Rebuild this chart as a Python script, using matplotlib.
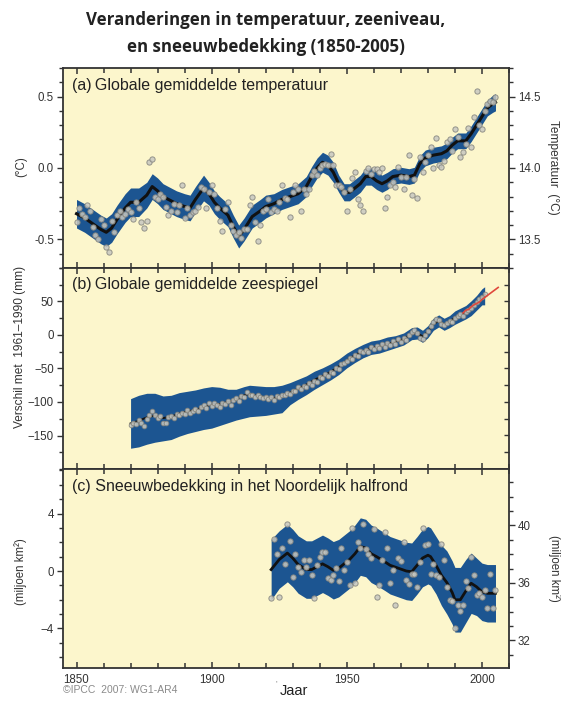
import numpy as np
import matplotlib
matplotlib.use("Agg")
import matplotlib.pyplot as plt
from matplotlib.ticker import MultipleLocator, FixedLocator, FormatStrFormatter

plt.rcParams['font.family'] = ['Liberation Sans', 'DejaVu Sans']
plt.rcParams['axes.unicode_minus'] = True

# ---------------- data ----------------
# (a) global mean temperature anomaly (degC), annual 1850-2005
temp_start = 1850
temp_vals = [-0.38, -0.28, -0.32, -0.34, -0.26, -0.30, -0.41, -0.47, -0.50, -0.36,
             -0.40, -0.55, -0.59, -0.37, -0.45, -0.33, -0.30, -0.34, -0.32, -0.29,
             -0.31, -0.36, -0.24, -0.28, -0.38, -0.42, -0.37, 0.04, 0.06, -0.20,
             -0.22, -0.18, -0.20, -0.27, -0.33, -0.30, -0.25, -0.31, -0.26, -0.12,
             -0.35, -0.28, -0.33, -0.31, -0.30, -0.27, -0.13, -0.15, -0.28, -0.17,
             -0.12, -0.18, -0.28, -0.37, -0.44, -0.29, -0.24, -0.40, -0.44, -0.47,
             -0.45, -0.49, -0.43, -0.43, -0.26, -0.20, -0.38, -0.51, -0.40, -0.30,
             -0.29, -0.22, -0.31, -0.29, -0.30, -0.24, -0.12, -0.21, -0.22, -0.34,
             -0.17, -0.12, -0.15, -0.30, -0.15, -0.18, -0.15, -0.05, -0.02, -0.05,
             0.00, 0.02, 0.03, 0.02, 0.10, 0.02, -0.12, -0.12, -0.13, -0.17,
             -0.30, -0.15, -0.07, -0.03, -0.22, -0.26, -0.30, -0.02, 0.00, -0.04,
             -0.01, -0.01, -0.03, 0.00, -0.28, -0.20, -0.12, -0.10, -0.13, 0.01,
             -0.06, -0.15, -0.06, 0.09, -0.19, -0.08, -0.21, 0.08, -0.03, 0.04,
             0.09, 0.15, 0.00, 0.21, 0.02, 0.01, 0.05, 0.18, 0.20, 0.12,
             0.27, 0.22, 0.08, 0.11, 0.17, 0.28, 0.15, 0.36, 0.54, 0.30,
             0.27, 0.40, 0.45, 0.47, 0.46, 0.50]
temp_smooth_years = [1850, 1853, 1856, 1859, 1861, 1863, 1865, 1868, 1870, 1873,
                     1876, 1878, 1880, 1882, 1885, 1887, 1890, 1892, 1894, 1897,
                     1899, 1901, 1903, 1906, 1908, 1910, 1912, 1915, 1918, 1920,
                     1923, 1926, 1929, 1932, 1935, 1937, 1939, 1941, 1943, 1945,
                     1947, 1949, 1951, 1953, 1955, 1957, 1959, 1961, 1963, 1965,
                     1967, 1970, 1973, 1975, 1977, 1979, 1982, 1985, 1987, 1989,
                     1991, 1994, 1996, 1998, 2000, 2002, 2004, 2005]
temp_smooth = [-0.32, -0.35, -0.39, -0.43, -0.45, -0.42, -0.36, -0.28, -0.24, -0.24,
               -0.19, -0.13, -0.16, -0.20, -0.23, -0.25, -0.27, -0.28, -0.22, -0.14,
               -0.18, -0.24, -0.28, -0.33, -0.41, -0.48, -0.43, -0.34, -0.30, -0.27,
               -0.25, -0.22, -0.20, -0.18, -0.13, -0.06, 0.00, 0.04, 0.02, -0.03,
               -0.11, -0.17, -0.17, -0.14, -0.11, -0.06, -0.06, -0.09, -0.11, -0.09,
               -0.06, -0.05, -0.06, -0.05, 0.03, 0.07, 0.09, 0.10, 0.12, 0.16,
               0.19, 0.19, 0.24, 0.30, 0.36, 0.42, 0.45, 0.46]
temp_halfwidth = [0.10, 0.10, 0.10, 0.10, 0.10, 0.10, 0.10, 0.10, 0.10, 0.10,
                  0.09, 0.09, 0.09, 0.09, 0.09, 0.09, 0.09, 0.09, 0.09, 0.09,
                  0.08, 0.08, 0.08, 0.08, 0.08, 0.08, 0.08, 0.08, 0.08, 0.08,
                  0.07, 0.07, 0.07, 0.07, 0.07, 0.07, 0.07, 0.07, 0.07, 0.07,
                  0.06, 0.06, 0.06, 0.06, 0.06, 0.06, 0.06, 0.06, 0.06, 0.06,
                  0.055, 0.055, 0.055, 0.055, 0.055, 0.055, 0.055, 0.055, 0.055, 0.055,
                  0.055, 0.055, 0.055, 0.055, 0.055, 0.055, 0.06, 0.06]

# (b) global mean sea level (mm, difference from 1961-1990), annual 1870-2001
sea_start = 1870
sea_vals = [-135, -131, -133, -127, -131, -136, -126, -120, -114, -120,
            -124, -121, -131, -132, -122, -121, -124, -118, -120, -116,
            -118, -112, -117, -114, -110, -113, -107, -104, -109, -101,
            -106, -101, -104, -107, -101, -103, -99, -104, -97, -94,
            -98, -91, -93, -85, -89, -90, -92, -90, -93, -94,
            -92, -96, -93, -97, -91, -93, -89, -90, -86, -88,
            -83, -84, -78, -81, -76, -77, -72, -74, -68, -70,
            -63, -64, -58, -61, -55, -56, -50, -51, -44, -42,
            -39, -35, -36, -30, -31, -24, -26, -22, -25, -18,
            -21, -16, -20, -14, -18, -12, -15, -9, -13, -6,
            -10, -4, -8, 0, 5, 8, 3, -4, -6, 0,
            6, 13, 19, 24, 22, 17, 15, 18, 21, 19,
            25, 28, 31, 29, 34, 37, 41, 45, 49, 53,
            57, 61]
sea_smooth_years = [1870, 1873, 1876, 1879, 1882, 1885, 1888, 1891, 1894, 1897,
                    1900, 1903, 1906, 1909, 1912, 1914, 1917, 1920, 1923, 1926,
                    1929, 1932, 1935, 1938, 1941, 1944, 1947, 1950, 1953, 1956,
                    1959, 1962, 1965, 1968, 1971, 1974, 1976, 1978, 1980, 1982,
                    1984, 1986, 1988, 1990, 1992, 1994, 1996, 1998, 2000, 2001]
sea_smooth = [-132, -128, -123, -120, -124, -122, -117, -114, -112, -107,
              -104, -103, -100, -96, -90, -88, -91, -93, -94, -91,
              -86, -80, -74, -67, -61, -55, -47, -38, -30, -24,
              -19, -17, -13, -10, -6, 2, 3, -2, 5, 16,
              21, 16, 20, 26, 30, 34, 40, 48, 57, 60]
sea_band_hi = [-95, -90, -87, -87, -91, -90, -86, -84, -82, -79,
               -77, -78, -81, -81, -77, -75, -76, -77, -77, -75,
               -71, -66, -61, -54, -49, -43, -36, -27, -20, -14,
               -9, -7, -3, -1, 3, 11, 12, 7, 14, 25,
               30, 25, 29, 36, 40, 44, 51, 59, 69, 72]
sea_band_lo = [-169, -167, -163, -160, -158, -156, -151, -147, -144, -141,
               -139, -135, -131, -127, -124, -122, -121, -120, -118, -116,
               -104, -96, -89, -81, -74, -67, -59, -49, -41, -34,
               -29, -27, -23, -19, -15, -7, -6, -11, -4, 7,
               12, 7, 11, 16, 20, 24, 29, 37, 45, 45]
sat_years = [1993, 1994, 1995, 1996, 1997, 1998, 1999, 2000, 2001, 2002, 2003, 2004, 2005, 2006]
sat_vals = [33, 37, 38, 42, 45, 47, 49, 53, 56, 59, 62, 65, 68, 71]

# (c) Northern Hemisphere snow cover anomaly (million km2), annual 1922-2005
snow_start = 1922
snow_vals = [-1.9, 2.2, 1.2, -1.8, 1.6, 0.5, 3.3, 2.1, -0.4, 1.2,
             0.3, -0.1, 0.8, 0.3, 0.8, -0.3, -1.9, 0.4, 1.0, 1.3,
             1.3, -0.5, -0.6, -0.3, 0.2, -0.7, 1.6, 0.1, 0.6, -1.0,
             3.0, -0.8, 2.0, 1.6, 3.3, 1.5, 1.2, 0.9, 2.9, -1.8,
             -1.0, 0.8, 2.7, 1.6, -0.8, 0.1, -2.4, 0.9, 0.7, 2.0,
             -0.6, -0.9, -0.2, -0.2, -1.1, 0.6, 3.0, 1.8, 1.9, -0.2,
             0.5, -0.3, -0.4, 1.9, 0.8, -1.1, -2.0, -2.1, -4.0, -2.4,
             -2.8, -2.4, -0.7, -1.2, 1.0, -0.3, -1.7, -1.5, -1.8, -1.3,
             -2.6, -0.2, -2.6, -1.3]
snow_smooth_years = [1922, 1925, 1928, 1930, 1932, 1935, 1937, 1939, 1941, 1943,
                     1945, 1947, 1949, 1951, 1953, 1955, 1957, 1959, 1961, 1964,
                     1966, 1969, 1972, 1974, 1976, 1978, 1980, 1981, 1983, 1985,
                     1987, 1989, 1990, 1992, 1994, 1996, 1998, 2000, 2002, 2005]
snow_smooth = [0.1, 0.8, 1.25, 0.9, 0.45, 0.1, 0.1, 0.3, 0.5, 0.3,
               0.05, 0.2, 0.5, 0.8, 1.2, 1.7, 1.6, 1.2, 1.0, 0.65,
               0.4, 0.2, 0.0, -0.05, 0.4, 0.9, 1.1, 1.0, 0.4, -0.3,
               -0.8, -1.5, -2.0, -2.0, -1.4, -0.85, -1.1, -1.45, -1.55, -1.55]
snow_halfwidth = [2.1, 2.0, 2.0, 2.0, 2.0, 2.0, 2.0, 2.0, 2.0, 2.0,
                  2.0, 2.0, 2.0, 2.0, 2.0, 2.0, 2.0, 2.0, 2.0, 2.0,
                  2.0, 2.0, 2.0, 2.0, 2.0, 2.0, 2.0, 2.0, 2.0, 2.1,
                  2.2, 2.2, 2.25, 2.25, 2.2, 2.1, 2.0, 2.0, 2.0, 2.0]

# ---------------- style ----------------
BG = '#fcf6cc'
BAND = '#1c5591'
LINE = '#111111'
PT_FACE = '#c8c8c1'
PT_EDGE = '#85857f'
SPINE = '#333333'
TXT = '#333333'

fig = plt.figure(figsize=(5.61, 7.03), dpi=100)
W, H = 561.0, 703.0
left, right = 63 / W, 509 / W
edges = [68, 268, 469, 668]
axes = []
for i in range(3):
    b = 1 - edges[i + 1] / H
    h = (edges[i + 1] - edges[i]) / H
    axes.append(fig.add_axes([left, b, right - left, h]))
ax_a, ax_b, ax_c = axes

for ax in axes:
    ax.set_facecolor(BG)
    ax.set_xlim(1845, 2010)
    for s in ax.spines.values():
        s.set_color(SPINE)
        s.set_linewidth(1.3)
    ax.xaxis.set_major_locator(FixedLocator([1850, 1900, 1950, 2000]))
    ax.xaxis.set_minor_locator(MultipleLocator(10))
    ax.tick_params(axis='x', which='both', direction='in', top=True, bottom=True,
                   color=SPINE, width=1.1, labelsize=8.3, labelcolor=TXT, pad=4)
    ax.tick_params(axis='x', which='major', length=4.5)
    ax.tick_params(axis='x', which='minor', length=3.5)
    ax.tick_params(axis='y', which='both', direction='out', left=True, right=False,
                   color=SPINE, width=1.0, labelsize=8.3, labelcolor=TXT, pad=2)
    ax.tick_params(axis='y', which='major', length=4.5)
    ax.tick_params(axis='y', which='minor', length=3)

ax_a.tick_params(axis='x', labelbottom=False)
ax_b.tick_params(axis='x', labelbottom=False)

pt_kw = dict(ls='none', marker='o', ms=3.8, mfc=PT_FACE, mec=PT_EDGE, mew=0.7,
             alpha=0.85, zorder=4)

# ---- (a)
ty = np.arange(temp_start, temp_start + len(temp_vals))
ts = np.array(temp_smooth)
thw = np.array(temp_halfwidth)
ax_a.fill_between(temp_smooth_years, ts - thw, ts + thw, color=BAND, lw=0, zorder=2)
ax_a.plot(temp_smooth_years, ts, color=LINE, lw=2.2, zorder=3, solid_joinstyle='round')
ax_a.plot(ty, temp_vals, **pt_kw)
ax_a.set_ylim(-0.7, 0.7)
ax_a.yaxis.set_major_locator(FixedLocator([-0.5, 0.0, 0.5]))
ax_a.yaxis.set_minor_locator(MultipleLocator(0.1))
ax_a.yaxis.set_major_formatter(FormatStrFormatter('%.1f'))
sec_a = ax_a.secondary_yaxis('right', functions=(lambda v: v + 14.0, lambda v: v - 14.0))
sec_a.yaxis.set_major_locator(FixedLocator([13.5, 14.0, 14.5]))
sec_a.yaxis.set_minor_locator(MultipleLocator(0.1))
sec_a.yaxis.set_major_formatter(FormatStrFormatter('%.1f'))
sec_a.tick_params(which='both', direction='out', color=SPINE, width=1.0,
                  labelsize=8.3, labelcolor=TXT, pad=2)
sec_a.tick_params(which='major', length=4.5)
sec_a.tick_params(which='minor', length=3)
sec_a.spines['right'].set_visible(False)
ax_a.text(1848.5, 0.575, '(a)\u2009Globale gemiddelde temperatuur', fontsize=11.5,
          color='#222222', va='center', ha='left', zorder=6)

# ---- (b)
sy = np.arange(sea_start, sea_start + len(sea_vals))
ss = np.array(sea_smooth)
ax_b.fill_between(sea_smooth_years, sea_band_lo, sea_band_hi, color=BAND, lw=0, zorder=2)
ax_b.plot(sea_smooth_years, ss, color=LINE, lw=1.4, zorder=3)
ax_b.plot(sy, sea_vals, **dict(pt_kw, ms=3.3))
ax_b.plot(sat_years, sat_vals, color='#e0483c', lw=1.2, zorder=5)
ax_b.set_ylim(-200, 100)
ax_b.yaxis.set_major_locator(FixedLocator([-150, -100, -50, 0, 50]))
ax_b.yaxis.set_minor_locator(MultipleLocator(25))
sec_b = ax_b.secondary_yaxis('right')
sec_b.yaxis.set_major_locator(MultipleLocator(25))
sec_b.tick_params(which='both', direction='in', length=3.5, color=SPINE, width=1.0,
                  labelright=False)
sec_b.spines['right'].set_visible(False)
ax_b.text(1848.5, 76, '(b)\u2009Globale gemiddelde zeespiegel', fontsize=11.5,
          color='#222222', va='center', ha='left', zorder=6)

# ---- (c)
cy = np.arange(snow_start, snow_start + len(snow_vals))
cs = np.array(snow_smooth)
chw = np.array(snow_halfwidth)
ax_c.fill_between(snow_smooth_years, cs - chw, cs + chw, color=BAND, lw=0, zorder=2)
ax_c.plot(snow_smooth_years, cs, color=LINE, lw=2.0, zorder=3)
ax_c.plot(cy, snow_vals, **pt_kw)
ax_c.set_ylim(-6.75, 7.1)
ax_c.yaxis.set_major_locator(FixedLocator([-4, 0, 4]))
ax_c.yaxis.set_minor_locator(MultipleLocator(1))
off_c = 36.83
sec_c = ax_c.secondary_yaxis('right', functions=(lambda v: v + off_c, lambda v: v - off_c))
sec_c.yaxis.set_major_locator(FixedLocator([32, 36, 40]))
sec_c.yaxis.set_minor_locator(MultipleLocator(1))
sec_c.tick_params(which='both', direction='out', color=SPINE, width=1.0,
                  labelsize=8.3, labelcolor=TXT, pad=2)
sec_c.tick_params(which='major', length=4.5)
sec_c.tick_params(which='minor', length=3)
sec_c.spines['right'].set_visible(False)
ax_c.text(1848.5, 5.9, '(c) Sneeuwbedekking in het Noordelijk halfrond', fontsize=11.5,
          color='#222222', va='center', ha='left', zorder=6)

# ---- labels
fig.text(21 / W, 1 - 167 / H, '(\u00b0C)', rotation=90, fontsize=8.3, color=TXT,
         ha='center', va='center')
fig.text(20 / W, 1 - 347 / H, 'Verschil met  1961\u20131990 (mm)', rotation=90, fontsize=8.6,
         color=TXT, ha='center', va='center')
fig.text(21 / W, 1 - 572 / H, '(miljoen km\u00b2)', rotation=90, fontsize=8.3, color=TXT,
         ha='center', va='center')
fig.text(553 / W, 1 - 167 / H, 'Temperatuur  (\u00b0C)', rotation=-90, fontsize=8.6,
         color=TXT, ha='center', va='center')
fig.text(554 / W, 1 - 568 / H, '(miljoen km\u00b2)', rotation=-90, fontsize=8.3, color=TXT,
         ha='center', va='center')
fig.text(294 / W, 1 - 691 / H, 'Jaar', fontsize=10.5, color='#222222', ha='center', va='center')
fig.text(276 / W, 1 - 684 / H, "'", fontsize=6, color='#777777', ha='center', va='center')
fig.text(63 / W, 1 - 690 / H, '\u00a9IPCC  2007: WG1-AR4', fontsize=7.5, color='#8a8a8a',
         ha='left', va='center')

fig.text(266 / W, 1 - 20 / H, 'Veranderingen in temperatuur, zeeniveau,', fontsize=12.2,
         family=['Open Sans', 'DejaVu Sans'], fontweight='bold', color='#222222',
         ha='center', va='center')
fig.text(266 / W, 1 - 47 / H, 'en sneeuwbedekking (1850-2005)', fontsize=12.2,
         family=['Open Sans', 'DejaVu Sans'], fontweight='bold', color='#222222',
         ha='center', va='center')

fig.savefig('out.png', dpi=100, facecolor='white')
